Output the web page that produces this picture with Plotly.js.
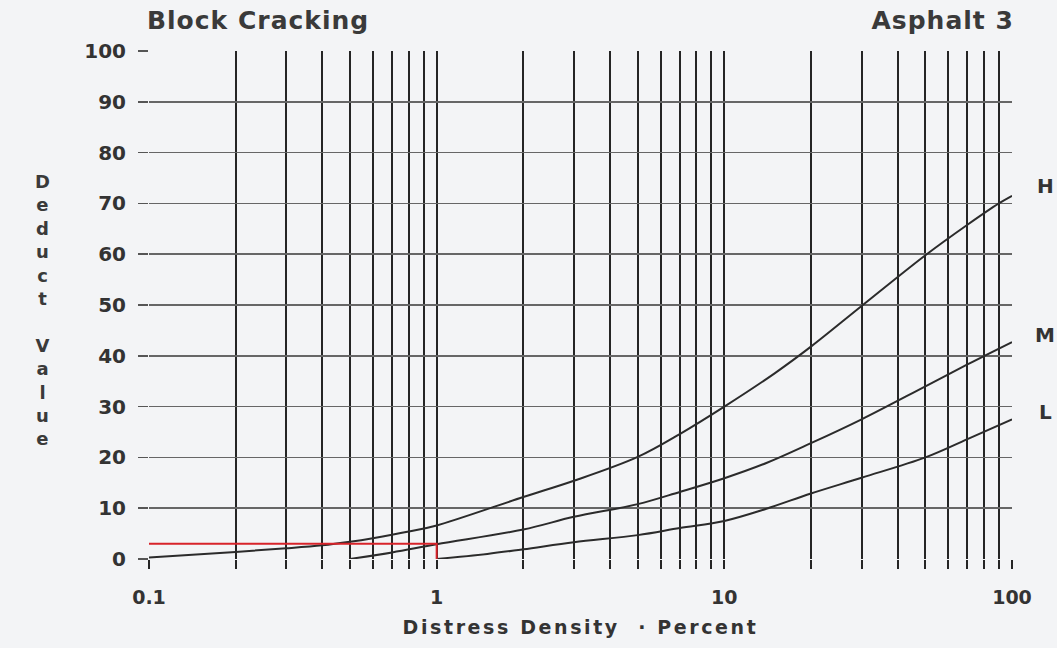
<!DOCTYPE html>
<html>
<head>
<meta charset="utf-8">
<script src="https://cdn.plot.ly/plotly-3.0.1.min.js"></script>
<style>
  html, body { margin: 0; padding: 0; background: #f3f4f6; }
  #chart { width: 1057px; height: 648px; }
  #chart .xtitle { letter-spacing: 2.6px; }
  #chart .annotation[data-index="0"] text, #chart .annotation[data-index="1"] text { letter-spacing: 1px; }
</style>
</head>
<body>
<div id="chart"></div>
<script>
// ---- Data ----
const hX = [0.1, 0.2, 0.3, 0.4, 0.5, 0.6, 0.8, 1, 2, 3, 5, 7, 10, 15, 20, 30, 50, 70, 90, 100];
const hY = [0.3, 1.4, 2.1, 2.7, 3.4, 4.1, 5.4, 6.6, 12.2, 15.4, 20.1, 24.6, 30.0, 36.6, 41.8, 49.8, 59.8, 65.8, 70.0, 71.5];

const mX = [0.5, 0.7, 1, 2, 3, 5, 7, 10, 14, 20, 30, 50, 70, 100];
const mY = [0, 1.3, 2.9, 5.8, 8.3, 10.8, 13.2, 15.9, 18.9, 22.8, 27.5, 34.0, 38.3, 42.7];

const lX = [1, 1.5, 2, 3, 5, 7, 10, 14, 20, 30, 50, 70, 100];
const lY = [0, 1.0, 1.9, 3.3, 4.7, 6.1, 7.5, 9.9, 12.9, 16, 20, 23.6, 27.5];

const redX = [0.1, 1, 1];
const redY = [3, 3, 0];

const curveLabels = ['H', 'M', 'L'];
const curveLabelY = [73.5, 44, 29];

const xTickVals = [0.1,0.2,0.3,0.4,0.5,0.6,0.7,0.8,0.9,1,2,3,4,5,6,7,8,9,10,20,30,40,50,60,70,80,90,100];
const xTickText = xTickVals.map(v => ([0.1,1,10,100].includes(v) ? String(v) : ''));
const yTickVals = [0,10,20,30,40,50,60,70,80,90,100];

const titleLeft = 'Block Cracking';
const titleRight = 'Asphalt 3';
const xTitle = 'Distress Density &nbsp;· Percent';
const yTitle = 'Deduct Value';

// ---- Traces ----
const curveLine = { color: '#2b2b2b', width: 2, shape: 'spline', smoothing: 1 };
const traces = [
  { x: hX, y: hY, mode: 'lines', line: curveLine, name: 'H', hoverinfo: 'x+y' },
  { x: mX, y: mY, mode: 'lines', line: curveLine, name: 'M', hoverinfo: 'x+y' },
  { x: lX, y: lY, mode: 'lines', line: curveLine, name: 'L', hoverinfo: 'x+y' },
  { x: redX, y: redY, mode: 'lines', line: { color: '#d8232a', width: 2 }, name: 'example', hoverinfo: 'x+y' }
];

const yTitleStacked = yTitle.split('').map(c => c === ' ' ? '' : c).join('<br>');
const headFont = { family: 'DejaVu Sans, sans-serif', size: 25, color: '#3a3a3a', weight: 'bold' };

const annotations = [
  { text: titleLeft, xref: 'paper', yref: 'paper', x: 0, xshift: 3, y: 1, yshift: 31, xanchor: 'left', yanchor: 'middle',
    showarrow: false, font: headFont },
  { text: titleRight, xref: 'paper', yref: 'paper', x: 1, xshift: -1, y: 1, yshift: 31, xanchor: 'right', yanchor: 'middle',
    showarrow: false, font: headFont },
  { text: yTitleStacked, xref: 'paper', yref: 'paper', x: 0, xshift: -107, y: 0.5, yshift: -5, xanchor: 'center', yanchor: 'middle',
    showarrow: false, align: 'center', font: { family: 'DejaVu Sans, sans-serif', size: 18, color: '#3a3a3a', weight: 'bold' } }
];
curveLabels.forEach((t, i) => {
  annotations.push({ text: t, xref: 'paper', yref: 'y', x: 1, xshift: 33, y: curveLabelY[i], xanchor: 'center', yanchor: 'middle',
    showarrow: false, font: { family: 'DejaVu Sans, sans-serif', size: 20, color: '#333', weight: 'bold' } });
});

const layout = {
  width: 1057, height: 648,
  margin: { l: 149, r: 45, t: 51, b: 89 },
  paper_bgcolor: '#f3f4f6',
  plot_bgcolor: '#f3f4f6',
  showlegend: false,
  xaxis: {
    type: 'log', range: [-1, 2],
    tickmode: 'array', tickvals: xTickVals, ticktext: xTickText,
    ticks: 'outside', ticklen: 9, tickwidth: 2, tickcolor: '#252525',
    ticklabelstandoff: 12,
    showgrid: true, gridcolor: '#252525', gridwidth: 2,
    zeroline: false, showline: false,
    tickfont: { family: 'DejaVu Sans, sans-serif', size: 19, color: '#333', weight: 'bold' },
    title: { text: xTitle, standoff: 13, font: { family: 'DejaVu Sans, sans-serif', size: 19, color: '#333', weight: 'bold' } }
  },
  yaxis: {
    range: [0, 100],
    tickmode: 'array', tickvals: yTickVals,
    ticks: 'outside', ticklen: 10, tickwidth: 1.5, tickcolor: '#555',
    ticklabelstandoff: 8,
    showgrid: true, gridcolor: '#666', gridwidth: 1.5,
    zeroline: false, showline: false,
    tickfont: { family: 'DejaVu Sans, sans-serif', size: 20, color: '#333', weight: 'bold' }
  },
  annotations: annotations
};

Plotly.newPlot('chart', traces, layout, { displayModeBar: false, staticPlot: true });
</script>
</body>
</html>
